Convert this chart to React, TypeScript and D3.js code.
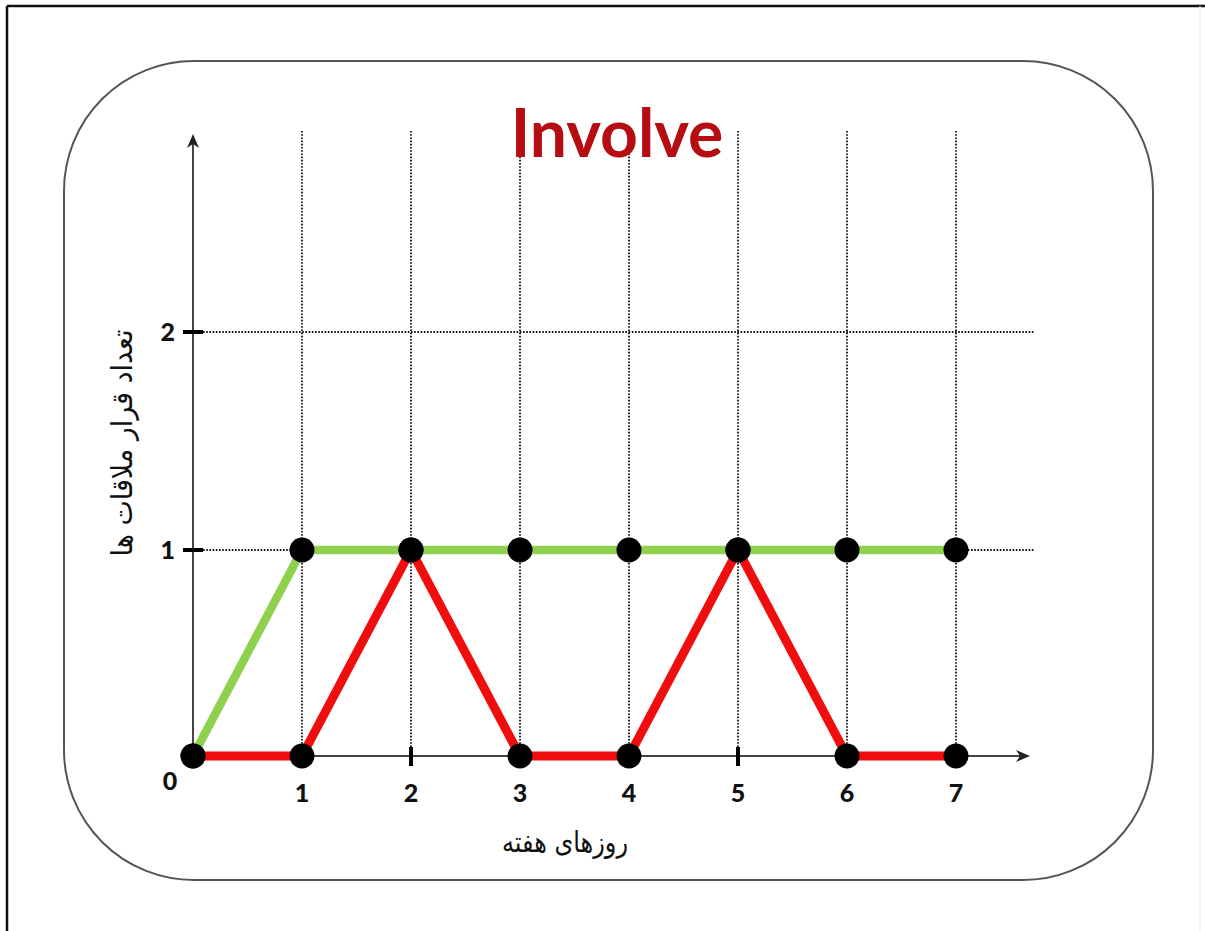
import React from "react";
import * as d3 from "d3";

const days = [0, 1, 2, 3, 4, 5, 6, 7];
const greenSeries = [0, 1, 1, 1, 1, 1, 1, 1];
const redSeries = [0, 0, 1, 0, 0, 1, 0, 0];
const xTickLabels = ["1", "2", "3", "4", "5", "6", "7"];
const yTicks = [1, 2];
const title = "Involve";
const xAxisTitle = "روزهای هفته";
const yAxisTitle = "تعداد قرار ملاقات ها";

const W = 1205;
const H = 931;

export default function App() {
  const x = d3.scaleLinear().domain([0, 7]).range([193, 956]);
  const y = d3.scaleLinear().domain([0, 1, 2]).range([756, 550, 332]);

  const greenPts = days.map((d, i) => [x(d), y(greenSeries[i])] as [number, number]);
  const redPts = days.map((d, i) => [x(d), y(redSeries[i])] as [number, number]);
  const line = d3.line();

  const x0 = x(0);
  const y0 = y(0);
  const gridRight = 1034;
  const gridTop = 131;
  const yTip = 134;
  const xTip = 1030;

  const numFont = "Lato, 'Open Sans', sans-serif";
  const arFont = "'DejaVu Sans', sans-serif";

  return (
    <svg
      width={W}
      height={H}
      style={{ position: "absolute", left: 0, top: 0, background: "#fff" }}
    >
      {/* outer frame */}
      <line x1={7} y1={6} x2={W} y2={6} stroke="#111" strokeWidth={2.5} />
      <line x1={7} y1={6} x2={7} y2={H} stroke="#111" strokeWidth={2.5} />
      <line x1={1200} y1={6} x2={1200} y2={H} stroke="#eee" strokeWidth={1} />

      {/* rounded panel */}
      <rect x={64} y={61} width={1089} height={819} rx={130} ry={130} fill="#fff" stroke="#555" strokeWidth={2} />

      {/* grid */}
      {days.slice(1).map((d) => (
        <line key={"vg" + d} x1={x(d)} x2={x(d)} y1={gridTop} y2={y0}
          stroke="#111" strokeWidth={1.8} strokeDasharray="1.6,1.6" />
      ))}
      {yTicks.map((t) => (
        <line key={"hg" + t} x1={x0 + 10} x2={gridRight} y1={y(t)} y2={y(t)}
          stroke="#111" strokeWidth={1.8} strokeDasharray="1.6,1.6" />
      ))}

      {/* axes */}
      <line x1={x0} y1={y0} x2={x0} y2={yTip + 8} stroke="#444" strokeWidth={2} />
      <path d={`M${x0},${yTip} L${x0 - 6},${yTip + 14} L${x0},${yTip + 10} L${x0 + 6},${yTip + 14} Z`} fill="#222" />
      <line x1={x0} y1={y0} x2={xTip - 8} y2={y0} stroke="#444" strokeWidth={2} />
      <path d={`M${xTip},${y0} L${xTip - 14},${y0 - 6} L${xTip - 10},${y0} L${xTip - 14},${y0 + 6} Z`} fill="#222" />

      {/* ticks */}
      {yTicks.map((t) => (
        <line key={"yt" + t} x1={x0 - 10} x2={x0 + 10} y1={y(t)} y2={y(t)} stroke="#000" strokeWidth={4} />
      ))}
      {days.slice(1).map((d) => (
        <line key={"xt" + d} x1={x(d)} x2={x(d)} y1={y0 - 9} y2={y0 + 10} stroke="#000" strokeWidth={4} />
      ))}

      {/* series */}
      <path d={line(greenPts) || ""} fill="none" stroke="#8fd14f" strokeWidth={8.5} strokeLinejoin="round" />
      <path d={line(redPts) || ""} fill="none" stroke="#f00d0d" strokeWidth={9} strokeLinejoin="round" />
      {greenPts.map((p, i) => (
        <circle key={"gp" + i} cx={p[0]} cy={p[1]} r={12.5} fill="#000" />
      ))}
      {redPts.map((p, i) => (
        <circle key={"rp" + i} cx={p[0]} cy={p[1]} r={12.5} fill="#000" />
      ))}

      {/* tick labels */}
      {yTicks.map((t) => (
        <text key={"yl" + t} x={175} y={y(t)} dy="0.36em" textAnchor="end"
          fontFamily={numFont} fontWeight="900" fontSize={25} fill="#111">{t}</text>
      ))}
      <text x={170} y={790} textAnchor="middle" fontFamily={numFont} fontWeight="900" fontSize={25} fill="#111">0</text>
      {xTickLabels.map((l, i) => (
        <text key={"xl" + l} x={x(i + 1)} y={802} textAnchor="middle"
          fontFamily={numFont} fontWeight="900" fontSize={25} fill="#111">{l}</text>
      ))}

      {/* titles */}
      <text x={617} y={157} textAnchor="middle" fontFamily={numFont} fontWeight="bold"
        fontSize={66} fill="#b50d12">{title}</text>
      <text x={565} y={852} textAnchor="middle" fontFamily={arFont} fontSize={29} fill="#111"
        direction="rtl" textLength={126} lengthAdjust="spacingAndGlyphs">{xAxisTitle}</text>
      <text transform={`translate(132,443) rotate(-90)`} textAnchor="middle" fontFamily={arFont}
        fontSize={29} fill="#111" direction="rtl" textLength={227} lengthAdjust="spacingAndGlyphs">{yAxisTitle}</text>
    </svg>
  );
}
